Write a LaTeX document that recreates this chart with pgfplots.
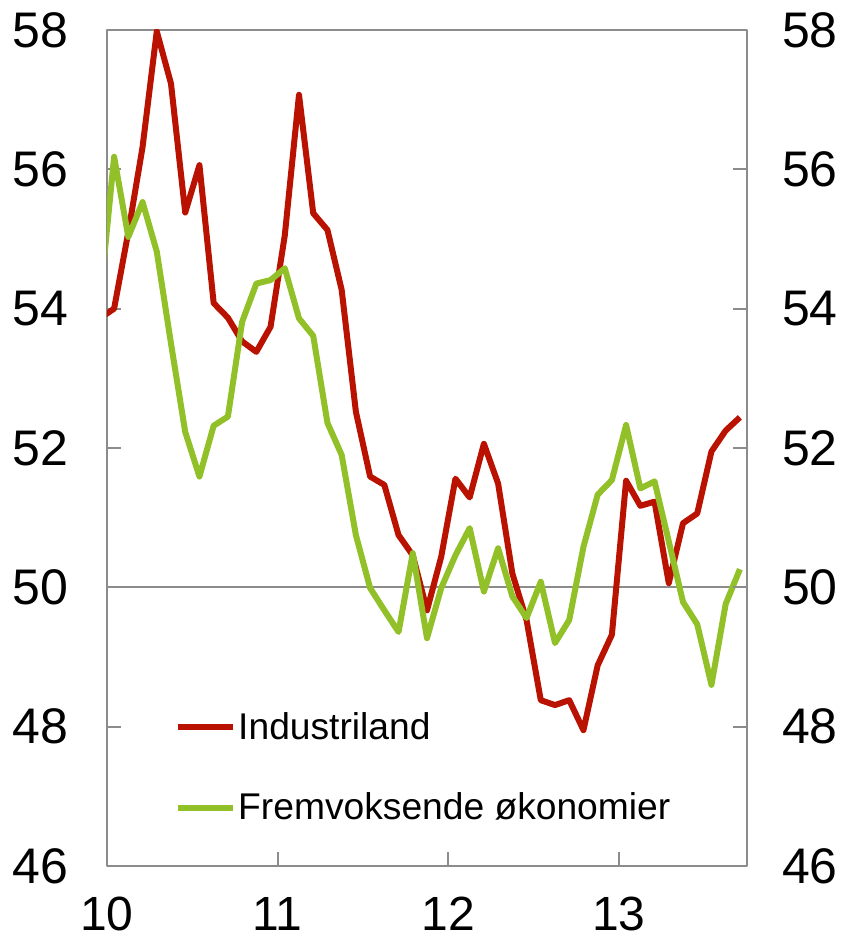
\documentclass[border=0pt]{standalone}
\usepackage{fontspec}
\setmainfont{Liberation Sans}
\usepackage{pgfplots}
\pgfplotsset{compat=1.18}
\definecolor{nbred}{RGB}{185,18,0}
\definecolor{nbgreen}{RGB}{145,192,40}
\definecolor{framegray}{RGB}{140,140,140}

\pgfplotstableread{
x y
-0.5 53.86
0.5 54.00
1.5 55.10
2.5 56.32
3.5 57.98
4.5 57.23
5.5 55.38
6.5 56.06
7.5 54.08
8.5 53.87
9.5 53.53
10.5 53.38
11.5 53.74
12.5 55.05
13.5 57.07
14.5 55.37
15.5 55.13
16.5 54.27
17.5 52.52
18.5 51.59
19.5 51.47
20.5 50.75
21.5 50.46
22.5 49.67
23.5 50.44
24.5 51.56
25.5 51.29
26.5 52.06
27.5 51.49
28.5 50.20
29.5 49.53
30.5 48.38
31.5 48.31
32.5 48.38
33.5 47.95
34.5 48.88
35.5 49.32
36.5 51.53
37.5 51.17
38.5 51.23
39.5 50.06
40.5 50.92
41.5 51.06
42.5 51.95
43.5 52.25
44.5 52.44
}\industri

\pgfplotstableread{
x y
-0.5 54.10
0.5 56.18
1.5 55.03
2.5 55.53
3.5 54.82
4.5 53.50
5.5 52.23
6.5 51.59
7.5 52.32
8.5 52.45
9.5 53.81
10.5 54.36
11.5 54.41
12.5 54.58
13.5 53.86
14.5 53.61
15.5 52.36
16.5 51.90
17.5 50.75
18.5 49.99
19.5 49.67
20.5 49.36
21.5 50.49
22.5 49.27
23.5 49.99
24.5 50.46
25.5 50.85
26.5 49.94
27.5 50.56
28.5 49.87
29.5 49.56
30.5 50.08
31.5 49.20
32.5 49.53
33.5 50.58
34.5 51.33
35.5 51.54
36.5 52.33
37.5 51.42
38.5 51.52
39.5 50.66
40.5 49.79
41.5 49.47
42.5 48.60
43.5 49.76
44.5 50.26
}\fremvoks

\begin{document}
\begin{tikzpicture}
\pgfplotsset{
  common/.style={
    scale only axis, width=320pt, height=418pt,
    xmin=0, xmax=45, ymin=46, ymax=58,
    ytick={46,48,...,58},
    /pgf/number format/assume math mode=true,
    tick align=inside, major tick length=7pt,
    tick style={framegray, line width=1pt},
    axis line style={framegray, line width=1.3pt},
    ticklabel style={font=\fontsize{25}{25}\selectfont},
  }
}
\begin{axis}[common,
  xtick={0,12,24,36}, xticklabels={10,11,12,13},
  ytick pos=left, xtick pos=bottom,
  yticklabel style={xshift=-16pt},
  xticklabel style={yshift=-12pt, font=\fontsize{24}{24}\selectfont},
  extra y ticks={50}, extra y tick labels={},
  extra y tick style={grid=major, major grid style={framegray, line width=1pt}, major tick length=0pt},
  legend style={at={(rel axis cs:0.106,0.187)}, anchor=north west, draw=none, fill=none,
    font=\fontsize{18.6}{18.6}\selectfont, row sep=23.5pt, inner sep=0pt,
    nodes={inner sep=1pt}},
  legend cell align=left,
  legend image code/.code={\draw[#1, line width=3pt] (0pt,0pt) -- (27.5pt,0pt);},
  line join=round,
]
\coordinate (LL) at (rel axis cs:0,0);
\coordinate (UR) at (rel axis cs:1,1);
\addplot[nbred, line width=3pt] table[x=x, y=y] {\industri};
\addlegendentry{Industriland}
\addplot[nbgreen, line width=3pt] table[x=x, y=y] {\fremvoks};
\addlegendentry{Fremvoksende økonomier}
\end{axis}
\begin{axis}[common,
  axis x line=none, axis y line*=right,
  tick align=inside,
  ytick pos=right, yticklabel pos=right,
  yticklabel style={xshift=14pt},
]
\end{axis}
\pgfresetboundingbox
\path ([shift={(-53.5pt,-37.5pt)}]LL) rectangle ([shift={(50.5pt,15pt)}]UR);
\end{tikzpicture}
\end{document}
